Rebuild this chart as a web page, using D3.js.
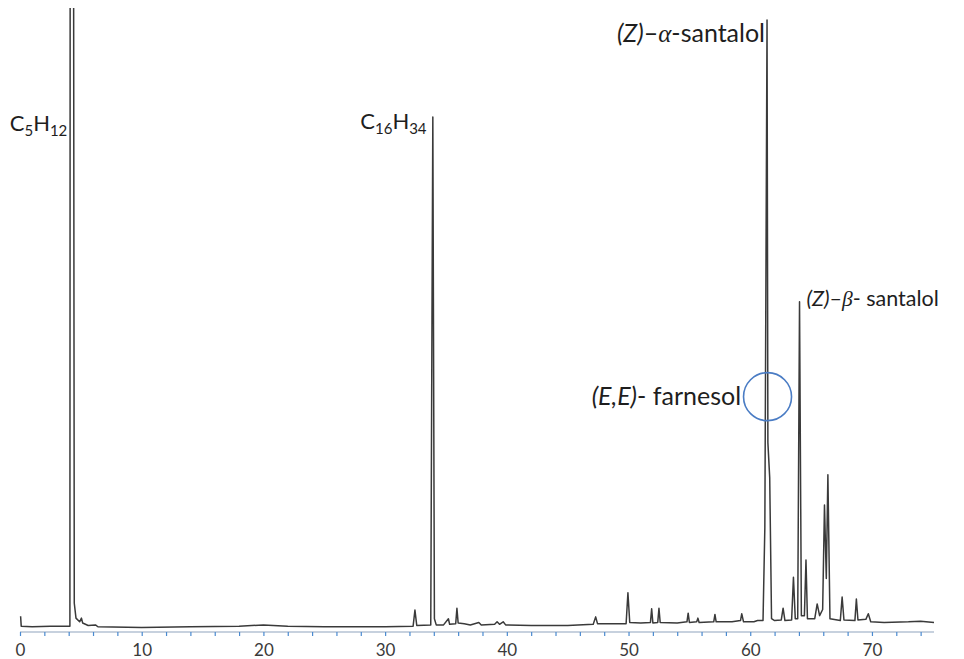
<!DOCTYPE html>
<html>
<head>
<meta charset="utf-8">
<script src="https://cdn.jsdelivr.net/npm/d3@7"></script>
<style>
  body { margin: 0; background: #fff; }
  .lbl { font-family: Lato, "Open Sans", sans-serif; fill: #1e1e1e; }
  .tick text { font-family: Lato, "Open Sans", sans-serif; fill: #3a3a3a; }
</style>
</head>
<body>
<svg id="chart"></svg>
<script>
// retention time (min) and detector signal (relative units)
var traceTime = [
  0.05, 0.1, 1.0, 2.5, 4.1, 4.16, 4.3, 4.46, 4.6, 4.9, 5.05, 5.15, 5.6, 6.2, 6.4,
  10, 14, 18, 20, 22, 25, 30, 32.3, 32.45, 32.6, 33.75, 33.85, 33.92, 34.05, 34.2,
  34.8, 35.2, 35.3, 35.8, 35.9, 36.0, 36.5, 37.0, 37.7, 37.9, 39.0, 39.2, 39.4, 39.7, 39.9,
  42, 45, 47.1, 47.3, 47.45, 49.8, 49.95, 50.1, 51.0, 51.8, 51.9, 52.0, 52.4, 52.5, 52.6,
  54.0, 54.8, 54.9, 55.0, 55.6, 55.7, 55.8, 57.0, 57.1, 57.2, 58.5, 59.2, 59.3, 59.45,
  60.3, 60.6, 61.05, 61.2, 61.38, 61.45, 61.6, 61.75, 62.0, 62.55, 62.7, 62.85,
  63.4, 63.55, 63.7, 63.9, 64.05, 64.2, 64.45, 64.58, 64.7, 65.3, 65.5, 65.7,
  65.95, 66.1, 66.25, 66.38, 66.55, 67.4, 67.55, 67.7, 68.6, 68.72, 68.85,
  69.5, 69.7, 69.9, 71, 73, 74, 75.1
];
var traceSignal = [
  1.9, 0.3, 0.2, 0.3, 0.3, 300, 300, 4, 1.6, 1.0, 1.6, 0.8, 0.4, 0.5, 0.2,
  0.1, 0.2, 0.3, 0.5, 0.3, 0.2, 0.2, 0.3, 2.9, 0.4, 0.5, 50, 82.7, 1.5, 0.5,
  0.5, 1.5, 0.6, 0.7, 3.2, 0.8, 0.7, 0.5, 0.9, 0.5, 0.6, 1.0, 0.6, 1.0, 0.5,
  0.4, 0.4, 0.6, 1.8, 0.7, 0.7, 5.7, 0.9, 0.8, 0.9, 3.1, 0.8, 0.9, 3.2, 0.9,
  0.8, 1.0, 2.4, 0.9, 1.0, 1.6, 0.9, 1.0, 2.2, 1.0, 1.0, 1.2, 2.3, 1.0,
  1.0, 1.2, 1.2, 16.3, 98.4, 30, 24.3, 1.5, 1.2, 1.3, 3.2, 1.2,
  1.3, 8.2, 1.5, 1.5, 52.8, 2.0, 2.0, 11.0, 1.5, 1.5, 3.9, 2.0,
  3.0, 19.9, 8.0, 24.8, 1.5, 1.2, 5.0, 1.3, 1.2, 4.7, 1.3,
  1.4, 2.3, 1.0, 0.9, 1.0, 1.1, 0.9
];
var majorTicks = [0, 10, 20, 30, 40, 50, 60, 70];
var minorTicks = d3.range(0, 75, 2);

// peak annotations: [time, signal] where the text sits
var peakNames = ["C5H12", "C16H34", "alpha", "beta", "farnesol"];
var peakAt = [[4.3, 80.5], [33.9, 80.8], [61.38, 95.0], [64.05, 52.0], [61.38, 36.3]];

var width = 964, height = 659;
var svg = d3.select("#chart").attr("width", width).attr("height", height);

var x = d3.scaleLinear().domain([0, 75]).range([20, 932.8]);
var y = d3.scaleLinear().domain([0, 100]).range([628, 10]);

svg.append("clipPath").attr("id", "clip")
  .append("rect").attr("x", 0).attr("y", 8).attr("width", width).attr("height", 624);

// axis
var axis = svg.append("g")
  .attr("transform", "translate(0,632)")
  .call(d3.axisBottom(x).tickValues(minorTicks).tickSize(4).tickSizeOuter(0).tickPadding(8)
    .tickFormat(function(d) { return majorTicks.indexOf(d) >= 0 ? d : ""; }));
axis.select(".domain").attr("stroke", "#8fa3bd").attr("stroke-width", 1.2)
  .attr("d", "M" + x(0) + ",0H934");
axis.selectAll(".tick line").attr("stroke", "#4a8ad0").attr("stroke-width", 1.2);
axis.selectAll(".tick text").style("font-size", "17px");

var data = traceTime.map(function(t, i) { return {t: t, v: traceSignal[i]}; });
var line = d3.line().x(function(d) { return x(d.t); }).y(function(d) { return y(d.v); });

svg.append("path")
  .datum(data)
  .attr("clip-path", "url(#clip)")
  .attr("fill", "none")
  .attr("stroke", "#3a3a3a")
  .attr("stroke-width", 1.5)
  .attr("stroke-linejoin", "round")
  .attr("d", line);

// labels
function formula(px, py, parts) {
  var t = svg.append("text").attr("class", "lbl").attr("x", px).attr("y", py)
    .attr("text-anchor", "end").style("font-size", "22px");
  parts.forEach(function(p, i) {
    var s = t.append("tspan").text(p);
    if (i % 2 === 1) s.style("font-size", "15px").attr("dy", "5");
    else if (i > 0) s.attr("dy", "-5");
  });
}
formula(x(peakAt[0][0]) - 5, y(peakAt[0][1]), ["C", "5", "H", "12"]);
formula(x(peakAt[1][0]) - 6, y(peakAt[1][1]), ["C", "16", "H", "34"]);

var a = svg.append("text").attr("class", "lbl").attr("text-anchor", "end")
  .attr("x", x(peakAt[2][0]) - 2).attr("y", y(peakAt[2][1]) + 1).style("font-size", "25px");
a.append("tspan").text("(Z)").style("font-style", "italic");
a.append("tspan").text("\u2013");
a.append("tspan").text("\u03b1").style("font-family", "'Liberation Serif', serif").style("font-style", "italic");
a.append("tspan").text("-santalol");

var b = svg.append("text").attr("class", "lbl").attr("text-anchor", "start")
  .attr("x", x(peakAt[3][0]) + 7).attr("y", y(peakAt[3][1]) - 1).style("font-size", "21.5px");
b.append("tspan").text("(Z)").style("font-style", "italic");
b.append("tspan").text("\u2013");
b.append("tspan").text("\u03b2").style("font-family", "'Liberation Serif', serif").style("font-style", "italic");
b.append("tspan").text("- santalol");

var f = svg.append("text").attr("class", "lbl").attr("text-anchor", "end")
  .attr("x", x(peakAt[4][0]) - 26).attr("y", y(peakAt[4][1]) + 1).style("font-size", "25px");
f.append("tspan").text("(E,E)").style("font-style", "italic");
f.append("tspan").text("- farnesol");

svg.append("circle")
  .attr("cx", x(peakAt[4][0]) + 0.5).attr("cy", y(peakAt[4][1]) - 7)
  .attr("r", 24)
  .attr("fill", "none").attr("stroke", "#4a7cc4").attr("stroke-width", 1.6);
</script>
</body>
</html>
